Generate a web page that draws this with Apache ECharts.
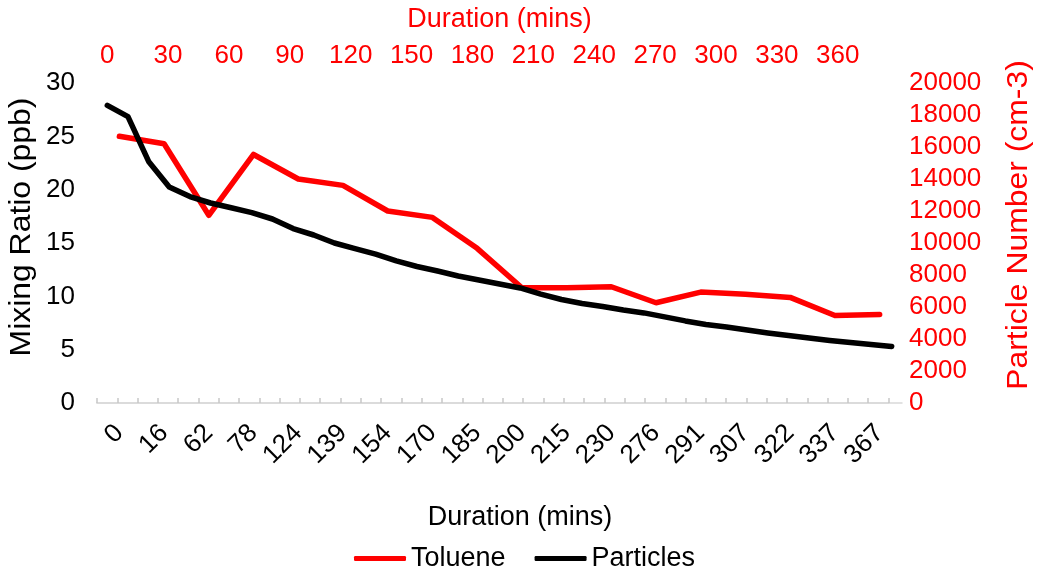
<!DOCTYPE html>
<html>
<head>
<meta charset="utf-8">
<title>Toluene and particle decay</title>
<script src="https://cdn.jsdelivr.net/npm/echarts@6/dist/echarts.min.js"></script>
<style>
  html, body { margin: 0; padding: 0; background: #fff; }
  #chart { width: 1042px; height: 574px; }
</style>
</head>
<body>
<div id="chart"></div>
<script>
// Toluene sampling times (mins), one category each on the bottom axis
const sampleTimes = ['0', '16', '62', '78', '124', '139', '154', '170', '185', '200',
                     '215', '230', '276', '291', '307', '322', '337', '367'];
// Toluene mixing ratio (ppb) at each sample
const toluene = [25.0, 24.3, 17.6, 23.3, 21.0, 20.4, 18.0, 17.4, 14.5, 10.8,
                 10.8, 10.9, 9.4, 10.4, 10.2, 9.9, 8.2, 8.3];

// Continuous particle record, 10-minute steps along the top
const durationTicks = ['0', '10', '20', '30', '40', '50', '60', '70', '80', '90',
                       '100', '110', '120', '130', '140', '150', '160', '170', '180', '190',
                       '200', '210', '220', '230', '240', '250', '260', '270', '280', '290',
                       '300', '310', '320', '330', '340', '350', '360', '370', '380'];
// Particle number concentration (cm-3)
const particles = [18600, 17900, 15100, 13500, 12900, 12500, 12200, 11900, 11500, 10900,
                   10500, 10000, 9650, 9300, 8880, 8530, 8250, 7940, 7690, 7440,
                   7190, 6810, 6470, 6220, 6030, 5810, 5630, 5380, 5130, 4910,
                   4750, 4560, 4380, 4220, 4060, 3910, 3780, 3660, 3530];

const FONT = '"Liberation Sans", Arial, Helvetica, sans-serif';
const RED = '#ff0000';
const GRAY = '#d9d9d9';

const chart = echarts.init(document.getElementById('chart'), null, { renderer: 'canvas' });

chart.setOption({
  animation: false,
  backgroundColor: '#ffffff',
  textStyle: { fontFamily: FONT },
  grid: [
    // plot area shared by both lines
    { left: 97, right: 140, top: 83, bottom: 171, containLabel: false },
    // band carrying the red duration scale along the top
    { left: 97, right: 153.5, top: 83, bottom: 171, containLabel: false }
  ],
  legend: {
    left: 354,
    top: 545,
    padding: 0,
    itemWidth: 52,
    itemHeight: 5,
    itemGap: 29,
    icon: 'roundRect',
    textStyle: { fontSize: 27, color: '#000', fontFamily: FONT },
    data: ['Toluene', 'Particles']
  },
  xAxis: [
    {
      type: 'category',
      gridIndex: 0,
      position: 'bottom',
      data: sampleTimes,
      boundaryGap: true,
      axisLine: { lineStyle: { color: GRAY, width: 1.5 } },
      axisTick: { show: false },
      axisLabel: { interval: 0, rotate: 45, margin: 26, fontSize: 26, color: '#000', fontFamily: FONT },
      splitLine: { show: false }
    },
    {
      // positions the particle record across the plot width
      type: 'category',
      gridIndex: 0,
      position: 'top',
      data: durationTicks,
      boundaryGap: true,
      show: false
    },
    {
      type: 'category',
      gridIndex: 1,
      position: 'top',
      data: durationTicks,
      boundaryGap: true,
      axisLine: { lineStyle: { color: GRAY, width: 1.5 } },
      axisTick: { show: true, interval: 0, length: 5, lineStyle: { color: '#c8c8c8', width: 1.5 } },
      axisLabel: { interval: 2, margin: 14, fontSize: 26, color: RED, fontFamily: FONT },
      splitLine: { show: false }
    }
  ],
  yAxis: [
    {
      type: 'value',
      gridIndex: 0,
      position: 'left',
      min: 0, max: 30, interval: 5,
      axisLine: { show: false },
      axisTick: { show: false },
      splitLine: { show: false },
      axisLabel: { margin: 22, fontSize: 26, color: '#000', fontFamily: FONT }
    },
    {
      type: 'value',
      gridIndex: 0,
      position: 'right',
      min: 0, max: 20000, interval: 2000,
      axisLine: { show: false },
      axisTick: { show: false },
      splitLine: { show: false },
      axisLabel: { margin: 7, fontSize: 26, color: RED, fontFamily: FONT, formatter: v => String(v) }
    },
    {
      type: 'value',
      gridIndex: 1,
      show: false,
      min: 0, max: 1
    }
  ],
  graphic: [
    { type: 'text', x: 499.5, y: 20, style: { text: 'Duration (mins)', fill: RED, font: '27px ' + FONT, textAlign: 'center', textVerticalAlign: 'middle' } },
    { type: 'text', x: 520, y: 518, style: { text: 'Duration (mins)', fill: '#000', font: '27px ' + FONT, textAlign: 'center', textVerticalAlign: 'middle' } },
    { type: 'text', x: 22, y: 227, rotation: Math.PI / 2, scaleX: 1.1, style: { text: 'Mixing Ratio (ppb)', fill: '#000', font: '29px ' + FONT, textAlign: 'center', textVerticalAlign: 'middle' } },
    { type: 'text', x: 1019, y: 225, rotation: Math.PI / 2, scaleX: 1.1, style: { text: 'Particle Number (cm-3)', fill: RED, font: '29px ' + FONT, textAlign: 'center', textVerticalAlign: 'middle' } }
  ],
  series: [
    {
      name: 'Toluene',
      type: 'line',
      xAxisIndex: 0,
      yAxisIndex: 0,
      data: toluene,
      symbol: 'none',
      color: RED,
      lineStyle: { color: RED, width: 5.5, cap: 'round', join: 'round' }
    },
    {
      name: 'Particles',
      type: 'line',
      xAxisIndex: 1,
      yAxisIndex: 1,
      data: particles,
      symbol: 'none',
      color: '#000',
      lineStyle: { color: '#000', width: 5.5, cap: 'round', join: 'round' }
    }
  ]
});
</script>
</body>
</html>
